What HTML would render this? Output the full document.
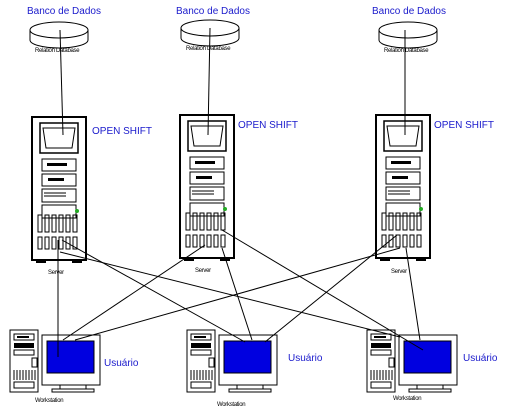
<!DOCTYPE html>
<html><head><style>
body{margin:0;background:#fff;}
svg{display:block;}
.t{font-family:"Liberation Sans",sans-serif;}
</style></head><body>
<svg width="505" height="411" viewBox="0 0 505 411" xmlns="http://www.w3.org/2000/svg">
<defs>
<g id="db">
  <path d="M0,12 L0,22 A29,8 0 0 0 58,22 L58,12" fill="#fff" stroke="#000"/>
  <ellipse cx="29" cy="12" rx="29" ry="8" fill="#fff" stroke="#000"/>
</g>
<g id="srv">
  <rect x="0" y="0" width="54" height="143" fill="#fff" stroke="#000" stroke-width="2"/>
  <rect x="8" y="6" width="38" height="30" fill="#fff" stroke="#000" stroke-width="1.5"/>
  <path d="M11,11 L43,11 L40,31 L14,31 Z" fill="#fff" stroke="#000"/>
  <rect x="10" y="42" width="34" height="12" fill="#fff" stroke="#000"/>
  <rect x="15" y="46" width="20" height="3" fill="#000"/>
  <rect x="10" y="57" width="34" height="12" fill="#fff" stroke="#000"/>
  <rect x="16" y="61" width="16" height="3" fill="#000"/>
  <rect x="10" y="72" width="34" height="13" fill="#fff" stroke="#000"/>
  <line x1="12" y1="76" x2="34" y2="76" stroke="#000"/>
  <line x1="12" y1="79" x2="34" y2="79" stroke="#000"/>
  <rect x="10" y="88" width="34" height="13" fill="#fff" stroke="#000"/>
  <circle cx="45" cy="94" r="2" fill="#2a2"/>
  <g fill="none" stroke="#000">
   <rect x="6" y="98" width="4" height="17"/><rect x="13" y="98" width="4" height="17"/><rect x="20" y="98" width="4" height="17"/><rect x="27" y="98" width="4" height="17"/><rect x="34" y="98" width="4" height="17"/><rect x="41" y="98" width="4" height="17"/>
   <rect x="6" y="120" width="4" height="12"/><rect x="13" y="120" width="4" height="12"/><rect x="20" y="120" width="4" height="12"/><rect x="27" y="120" width="4" height="12"/><rect x="34" y="120" width="4" height="12"/><rect x="41" y="120" width="4" height="12"/>
  </g>
  <rect x="4" y="143" width="10" height="3" fill="#000"/><rect x="40" y="143" width="10" height="3" fill="#000"/>
</g>
<g id="ws">
  <rect x="0" y="0" width="28" height="62" fill="#fff" stroke="#000"/>
  <rect x="4" y="4" width="20" height="6" fill="#fff" stroke="#000"/>
  <rect x="7" y="6" width="12" height="2" fill="#000"/>
  <rect x="4" y="13" width="20" height="5" fill="#000"/>
  <rect x="4" y="20" width="20" height="5" fill="#fff" stroke="#000"/>
  <rect x="22" y="28" width="5" height="9" fill="#fff" stroke="#000"/>
  <g stroke="#000"><line x1="4" y1="40" x2="4" y2="50"/><line x1="7" y1="40" x2="7" y2="50"/><line x1="10" y1="40" x2="10" y2="50"/><line x1="13" y1="40" x2="13" y2="50"/><line x1="16" y1="40" x2="16" y2="50"/><line x1="19" y1="40" x2="19" y2="50"/><line x1="22" y1="40" x2="22" y2="50"/><line x1="25" y1="40" x2="25" y2="50"/>
  <rect x="4" y="52" width="20" height="6" fill="none"/></g>
  <rect x="32" y="5" width="58" height="50" fill="#fff" stroke="#000"/>
  <rect x="37" y="11" width="47" height="32" fill="#0000e0" stroke="#000"/>
  <rect x="50" y="55" width="26" height="4" fill="#fff" stroke="#000"/>
  <rect x="42" y="59" width="42" height="3" fill="#fff" stroke="#000"/>
</g>
</defs>

<use href="#db" x="30" y="18"/>
<use href="#db" x="181" y="16"/>
<use href="#db" x="379" y="18"/>

<use href="#srv" x="32" y="117"/>
<use href="#srv" x="180" y="115"/>
<use href="#srv" x="376" y="115"/>

<use href="#ws" x="10" y="330"/>
<use href="#ws" x="187" y="330"/>
<use href="#ws" x="367" y="330"/>

<g fill="none" stroke="#000" stroke-width="1">
 <line x1="60" y1="30" x2="63" y2="135"/>
 <line x1="210" y1="28" x2="208" y2="135"/>
 <line x1="405" y1="30" x2="405" y2="135"/>
 <line x1="58" y1="240" x2="58" y2="357"/>
 <line x1="62" y1="240" x2="245" y2="342"/>
 <line x1="60" y1="252" x2="400" y2="337"/>
 <line x1="205" y1="245" x2="63" y2="340"/>
 <line x1="222" y1="248" x2="252" y2="340"/>
 <line x1="222" y1="230" x2="423" y2="350"/>
 <line x1="397" y1="235" x2="265" y2="342"/>
 <line x1="400" y1="248" x2="75" y2="340"/>
 <line x1="406" y1="248" x2="420" y2="340"/>
</g>

<g class="t" font-size="10" fill="#1a1acc">
 <text x="27" y="14">Banco de Dados</text>
 <text x="176" y="14">Banco de Dados</text>
 <text x="372" y="14">Banco de Dados</text>
 <text x="92" y="134">OPEN SHIFT</text>
 <text x="238" y="128">OPEN SHIFT</text>
 <text x="434" y="128">OPEN SHIFT</text>
 <text x="104" y="366">Usuário</text>
 <text x="288" y="361">Usuário</text>
 <text x="463" y="361">Usuário</text>
</g>
<g class="t" font-size="6" fill="#000" letter-spacing="-0.3">
 <text x="35" y="52">Relation Database</text>
 <text x="186" y="50">Relation Database</text>
 <text x="384" y="52">Relation Database</text>
 <text x="48" y="274">Server</text>
 <text x="195" y="272">Server</text>
 <text x="391" y="273">Server</text>
 <text x="35" y="402">Workstation</text>
 <text x="217" y="406">Workstation</text>
 <text x="393" y="400">Workstation</text>
</g>
</svg>
</body></html>
